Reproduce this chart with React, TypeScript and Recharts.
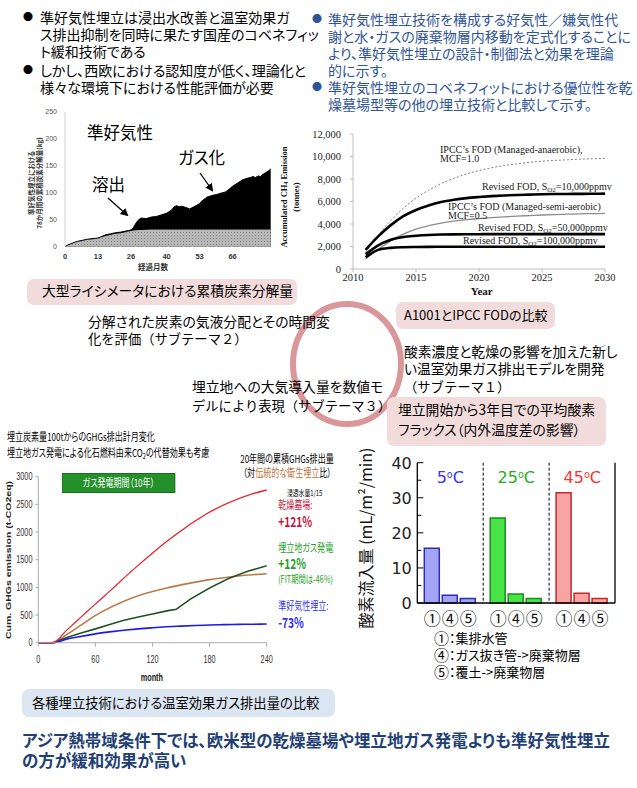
import React from "react";
import {
  AreaChart, Area, LineChart, Line, BarChart, Bar, XAxis, YAxis, Cell, CartesianGrid,
} from "recharts";

// ---------------- Chart 1: lysimeter cumulative carbon decomposition ----------------
const lysMonths = [0,1,2,3,5,7,9,11,13,14,16,18,20,22,24,25,26,27,28,29,30,32,34,36,38,40,42,43,44,45,46,48,49,50,52,53,54,56,58,60,62,63,64,66,68,70,72,73,74,75,76,77,78,79,80,81];
const lysTotal = [0,3,5,7,10,12,14,15,16,18,22,24,26,27,29,30,31,36,44,50,53,52,55,56,59,62,68,74,76,74,75,72,70,72,77,80,85,92,95,97,100,101,104,112,118,124,127,128,130,128,131,130,134,137,140,144];
const lysLeach = [0,2,4,6,9,11,13,14,15,17,20,22,24,25,27,28,29,30,30.5,31,31,31.5,32,32,32,32,32,32,32,32,32,32,32,32,32,32,32,32,32,32,32,32,32,32,32,32,32,32,32,32,32,32,32,32,32,32];
const lysXTicks = [0, 13, 26, 40, 53, 66];
const lysYTicks = [0, 50, 100, 150, 200, 250];

// ---------------- Chart 2: Revised FOD vs IPCC FOD ----------------
const years = [2011,2012,2013,2014,2015,2016,2017,2018,2019,2020,2021,2022,2023,2024,2025,2026,2027,2028,2029,2030];
const ipccAnaerobic = [1500,3000,4300,5400,6300,7000,7600,8050,8450,8750,9000,9200,9350,9480,9580,9650,9710,9760,9800,9830];
const revised10k = [1700,2900,3900,4700,5250,5650,5950,6150,6300,6400,6480,6540,6580,6610,6640,6660,6670,6680,6690,6700];
const ipccSemi = [900,1750,2500,3100,3550,3850,4080,4250,4380,4480,4570,4640,4700,4750,4800,4840,4870,4900,4920,4940];
const revised50k = [1300,2100,2600,2850,2950,3020,3060,3080,3090,3095,3100,3100,3100,3100,3100,3100,3100,3100,3100,3100];
const revised100k = [1050,1700,1880,1940,1960,1970,1975,1980,1980,1980,1980,1980,1980,1980,1980,1980,1980,1980,1980,1980];
const yearTicks = [2010, 2015, 2020, 2025, 2030];
const ch4Ticks = [0, 2000, 4000, 6000, 8000, 10000, 12000];

// ---------------- Chart 3: cumulative GHGs emission ----------------
const redMonths = [0,15,30,45,60,75,90,105,120,135,150,165,180,195,210,225,240];
const redValues = [0,0,230,465,700,930,1170,1400,1620,1830,2020,2200,2360,2490,2600,2690,2760];
const brownMonths = [0,15,30,45,60,75,90,105,120,135,150,165,180,195,210,225,240];
const brownValues = [0,0,150,320,490,630,750,850,925,990,1045,1095,1140,1175,1205,1228,1245];
const greenMonths = [0,15,30,45,60,75,90,105,120,135,145,160,180,200,220,240];
const greenValues = [0,0,95,175,250,330,405,465,520,575,605,790,990,1160,1290,1390];
const blueMonths = [0,15,30,45,60,75,90,105,120,135,150,165,180,195,210,225,240];
const blueValues = [0,0,65,115,160,195,225,250,270,287,300,311,319,326,331,334,337];
const monthTicks = [0, 60, 120, 180, 240];
const ghgTicks = [0, 500, 1000, 1500, 2000, 2500, 3000];

// ---------------- Chart 4: oxygen inflow flux ----------------
const tempLabels = ["5", "25", "45"];
const fluxDrain = [15.6, 24.2, 31.4];   // ① 集排水管
const fluxVent = [2.2, 2.6, 2.8];       // ④ ガス抜き管->廃棄物層
const fluxCover = [1.3, 1.3, 1.3];      // ⑤ 覆土->廃棄物層
const circLabels = ["①", "④", "⑤"];
const fluxTicks = [0, 5, 10, 15, 20, 25, 30, 35, 40];
const groupFill = ["#A4A4F6", "#46E446", "#F7A4A4"];
const groupStroke = ["#2E2EB0", "#1E8C1E", "#C02A2A"];
const tempColor = ["#3333FF", "#22B022", "#FF3030"];

const lysData = lysMonths.map((m, i) => ({ m, total: lysTotal[i], leach: lysLeach[i] }));
const fodData = years.map((y, i) => ({
  year: y, a: ipccAnaerobic[i], r10: revised10k[i], s: ipccSemi[i], r50: revised50k[i], r100: revised100k[i],
}));
const toSeries = (ms: number[], vs: number[]) => ms.map((m, i) => ({ m, v: vs[i] }));
const fluxData = tempLabels.map((t, i) => ({ temp: t, d: fluxDrain[i], v: fluxVent[i], c: fluxCover[i] }));

const JP = '"Noto Sans CJK JP", "Noto Sans", sans-serif';
const SERIF = '"Liberation Serif", "DejaVu Serif", serif';
const SANS = '"Liberation Sans", Arial, sans-serif';
const DJ = '"DejaVu Sans", Verdana, sans-serif';

type TP = {
  x: number; y: number; size: number; color?: string; weight?: number | string; family?: string;
  children: any; anchor?: "start" | "middle" | "end"; off?: number; style?: React.CSSProperties; palt?: boolean;
};
function T({ x, y, size, color = "#000", weight = 400, family = JP, children, anchor = "start", off = 0.56, style, palt = true }: TP) {
  const tx = anchor === "middle" ? "translateX(-50%)" : anchor === "end" ? "translateX(-100%)" : undefined;
  return (
    <div style={{
      position: "absolute", left: x, top: y - size * off, fontSize: size, lineHeight: 1, color,
      fontWeight: weight as any, fontFamily: family, whiteSpace: "nowrap",
      fontFeatureSettings: palt ? '"palt"' : "normal", transform: tx, ...style,
    }}>{children}</div>
  );
}
function Box({ x, y, w, h, bg }: { x: number; y: number; w: number; h: number; bg: string }) {
  return <div style={{ position: "absolute", left: x, top: y, width: w, height: h, background: bg, borderRadius: 7 }} />;
}
function VText({ cx, cy, w, h, size, lh, children, family = JP, weight = 400, color = "#000" }: any) {
  return (
    <div style={{
      position: "absolute", left: cx - w / 2, top: cy - h / 2, width: w, height: h, textAlign: "center",
      transform: "rotate(-90deg)", fontSize: size, lineHeight: `${lh}px`, fontFamily: family, fontWeight: weight,
      color, whiteSpace: "nowrap", fontFeatureSettings: '"palt"',
    }}>{children}</div>
  );
}
const Sub = ({ children }: any) => <sub style={{ fontSize: "0.7em", verticalAlign: "-0.25em", lineHeight: 0 }}>{children}</sub>;
const Circ = ({ children }: any) => (
  <span style={{ fontSize: 15, display: "inline-block", lineHeight: "13px", height: 13, verticalAlign: "top" }}>{children}</span>
);

const FluxTickL = (p: any) => {
  const { x, y, payload } = p;
  const v = payload.value;
  const major = v % 10 === 0;
  return (
    <g>
      {major && <text x={x} y={y} dy={6} textAnchor="end" fontSize={16} fontFamily={DJ} fill="#222">{v}</text>}
      <line x1={x + 5.5} x2={x + 5.5 + (major ? 6 : 4)} y1={y} y2={y} stroke="#000" strokeWidth={1} />
    </g>
  );
};
const FluxTickR = (p: any) => {
  const { x, y, payload } = p;
  const major = payload.value % 10 === 0;
  return <line x1={x} x2={x - (major ? 6 : 4)} y1={y} y2={y} stroke="#000" strokeWidth={1} />;
};
const CircTick = (p: any) => {
  const { x, y } = p;
  return (
    <g>
      {circLabels.map((c, i) => (
        <text key={i} x={x + (i - 1) * 18} y={y + 14} textAnchor="middle" dominantBaseline="central"
          fontSize={17} fontFamily={JP} fill="#111">{c}</text>
      ))}
    </g>
  );
};
const groupDividers = ({ offset }: any) => [offset.left + offset.width / 3, offset.left + (2 * offset.width) / 3];

const K = 0.73; // horizontal compression of the lower-left panel

export default function App() {
  return (
    <div style={{ position: "absolute", left: 0, top: 0, width: 637, height: 788, background: "#fff", overflow: "hidden", fontFamily: JP }}>
      {/* ring */}
      <svg style={{ position: "absolute", left: 0, top: 0 }} width={637} height={788}>
        <ellipse cx={347} cy={364} rx={54} ry={60} fill="none" stroke="#D9979A" strokeWidth={6} />
      </svg>

      {/* top-left bullets */}
      <T x={23} y={18} size={10}>●</T>
      <T x={40} y={18} size={14}>準好気性埋立は浸出水改善と温室効果ガ</T>
      <T x={40} y={35} size={14}>ス排出抑制を同時に果たす国産のコベネフィッ</T>
      <T x={40} y={52} size={14}>ト緩和技術である</T>
      <T x={23} y={71} size={10}>●</T>
      <T x={40} y={71} size={14}>しかし、西欧における認知度が低く、理論化と</T>
      <T x={40} y={88} size={14}>様々な環境下における性能評価が必要</T>

      {/* top-right bullets */}
      <T x={312} y={20} size={10} color="#2F5597">●</T>
      <T x={328} y={20} size={14} color="#2F5597">準好気性埋立技術を構成する好気性／嫌気性代</T>
      <T x={328} y={37} size={14} color="#2F5597">謝と水・ガスの廃棄物層内移動を定式化することに</T>
      <T x={328} y={54} size={14} color="#2F5597">より、準好気性埋立の設計・制御法と効果を理論</T>
      <T x={328} y={71} size={14} color="#2F5597">的に示す。</T>
      <T x={312} y={88} size={10} color="#2F5597">●</T>
      <T x={328} y={88} size={14} color="#2F5597">準好気性埋立のコベネフィットにおける優位性を乾</T>
      <T x={328} y={105} size={14} color="#2F5597">燥墓場型等の他の埋立技術と比較して示す。</T>

      {/* chart 1 */}
      <div style={{ position: "absolute", left: 30, top: 100 }}>
        <AreaChart width={250} height={175} data={lysData} margin={{ top: 11.7, right: 9.3, bottom: 14.3, left: 8 }}>
          <defs>
            <pattern id="dots" width="3" height="3" patternUnits="userSpaceOnUse">
              <rect width="3" height="3" fill="#B8B8B8" />
              <rect width="1" height="1" fill="#808080" />
            </pattern>
          </defs>
          <XAxis type="number" dataKey="m" domain={[0, 81]} ticks={lysXTicks} interval={0} height={14}
            tickSize={0} tickMargin={7} axisLine={false}
            tick={{ fontSize: 7.5, fill: "#333", fontWeight: 700, fontFamily: SANS }} />
          <YAxis domain={[0, 250]} ticks={lysYTicks} interval={0} width={27} tickSize={0} tickMargin={8}
            axisLine={{ stroke: "#D0D0D0" }} tick={{ fontSize: 7, fill: "#555", fontFamily: SANS }} />
          <Area type="linear" dataKey="total" stroke="#000" strokeWidth={1} fill="#000" fillOpacity={1} isAnimationActive={false} />
          <Area type="linear" dataKey="leach" stroke="none" fill="url(#dots)" fillOpacity={1} isAnimationActive={false} />
        </AreaChart>
      </div>
      <VText cx={35.5} cy={183} w={120} h={16} size={6.5} lh={7.5} weight={700} color="#333">
        準好気性埋立における<br />78か月間の累積炭素分解量(kg)
      </VText>
      <T x={153} y={267} size={7.5} anchor="middle" weight={700} color="#333">経過月数</T>
      <T x={87} y={133} size={16.5}>準好気性</T>
      <T x={178} y={158} size={16.5}>ガス化</T>
      <T x={92} y={185} size={16.5}>溶出</T>

      {/* chart 2 */}
      <div style={{ position: "absolute", left: 300, top: 125 }}>
        <LineChart width={330} height={175} data={fodData} margin={{ top: 9, right: 25, bottom: 15, left: 5 }}>
          <XAxis type="number" dataKey="year" domain={[2010, 2030]} ticks={yearTicks} interval={0} height={16}
            tickSize={3} tickMargin={2} axisLine={{ stroke: "#BFBFBF" }} tickLine={{ stroke: "#BFBFBF" }}
            tick={{ fontSize: 10.5, fill: "#222", fontFamily: SERIF }} />
          <YAxis domain={[0, 12000]} ticks={ch4Ticks} interval={0} width={48} tickSize={3} tickMargin={9}
            axisLine={{ stroke: "#BFBFBF" }} tickLine={{ stroke: "#BFBFBF" }}
            tickFormatter={(v: number) => v.toLocaleString("en-US")}
            tick={{ fontSize: 10.5, fill: "#222", fontFamily: SERIF }} />
          <Line type="monotone" dataKey="a" stroke="#7F7F7F" strokeWidth={1} strokeDasharray="2 2" dot={false} isAnimationActive={false} />
          <Line type="monotone" dataKey="s" stroke="#8C8C8C" strokeWidth={1.3} dot={false} isAnimationActive={false} />
          <Line type="monotone" dataKey="r10" stroke="#000" strokeWidth={2.6} dot={false} isAnimationActive={false} />
          <Line type="monotone" dataKey="r50" stroke="#000" strokeWidth={2.6} dot={false} isAnimationActive={false} />
          <Line type="monotone" dataKey="r100" stroke="#000" strokeWidth={2.6} dot={false} isAnimationActive={false} />
        </LineChart>
      </div>
      <VText cx={290} cy={197} w={140} h={24} size={8.5} lh={12} weight={700} family={SERIF} color="#111">
        Accumulated CH<Sub>4</Sub> Emission<br />(tonnes)
      </VText>
      <T x={481.7} y={291} size={11} anchor="middle" weight={700} family={SERIF} off={0.5} color="#111">Year</T>
      <T x={440} y={149.5} size={10} family={SERIF} off={0.5} color="#222">IPCC’s FOD (Managed-anaerobic),</T>
      <T x={440} y={158.5} size={10} family={SERIF} off={0.5} color="#222">MCF=1.0</T>
      <T x={482} y={186.7} size={10} family={SERIF} off={0.5} color="#222">Revised FOD, S<Sub>O2</Sub>=10,000ppmv</T>
      <T x={448} y={207.3} size={10} family={SERIF} off={0.5} color="#222">IPCC’s FOD (Managed-semi-aerobic)</T>
      <T x={448} y={216.3} size={10} family={SERIF} off={0.5} color="#222">MCF=0.5</T>
      <T x={478} y={228.3} size={10} family={SERIF} off={0.5} color="#222">Revised FOD, S<Sub>O2</Sub>=50,000ppmv</T>
      <T x={463} y={240.7} size={10} family={SERIF} off={0.5} color="#222">Revised FOD, S<Sub>O2</Sub>=100,000ppmv</T>

      {/* arrows */}
      <svg style={{ position: "absolute", left: 0, top: 0, pointerEvents: "none" }} width={637} height={788}>
        <defs>
          <marker id="ah" markerWidth="8" markerHeight="8" refX="6" refY="4" orient="auto" markerUnits="userSpaceOnUse">
            <path d="M0,0 L8,4 L0,8 z" fill="#000" />
          </marker>
        </defs>
        <line x1={200} y1={173} x2={212} y2={190} stroke="#000" strokeWidth={1.3} markerEnd="url(#ah)" />
        <line x1={108} y1={198} x2={127} y2={215} stroke="#000" strokeWidth={1.3} markerEnd="url(#ah)" />
      </svg>

      {/* middle captions */}
      <Box x={27} y={279} w={270} h={26} bg="#F2DCDB" />
      <T x={42} y={292} size={13.8}>大型ライシメータにおける累積炭素分解量</T>
      <Box x={396} y={302} w={159} h={27} bg="#F2DCDB" />
      <T x={404} y={315.5} size={13}>A1001とIPCC FODの比較</T>
      <T x={88} y={323} size={13.8}>分解された炭素の気液分配とその時間変</T>
      <T x={88} y={339.5} size={13.3} palt={false}>化を評価（サブテーマ２）</T>
      <T x={404} y={353} size={13.8}>酸素濃度と乾燥の影響を加えた新し</T>
      <T x={404} y={370} size={13.8}>い温室効果ガス排出モデルを開発</T>
      <T x={404} y={387} size={13.3} palt={false}>（サブテーマ１）</T>
      <T x={192} y={388} size={13.8}>埋立地への大気導入量を数値モ</T>
      <T x={192} y={406} size={13.3} palt={false}>デルにより表現（サブテーマ３）</T>
      <Box x={387} y={397} w={219} h={49} bg="#F2DCDB" />
      <T x={398} y={411} size={13.8}>埋立開始から3年目での平均酸素</T>
      <T x={398} y={431} size={13.8}>フラックス（内外温度差の影響）</T>

      {/* lower-left panel (horizontally compressed) */}
      <div style={{ position: "absolute", left: 0, top: 425, width: 470, height: 275, transform: `scaleX(${K})`, transformOrigin: "0 0" }}>
        <T x={9.6} y={12} size={11}>埋立炭素量100tからのGHGs排出計月変化</T>
        <T x={9.6} y={28} size={11}>埋立地ガス発電による化石燃料由来CO<Sub>2</Sub>の代替効果も考慮</T>
        <div style={{ position: "absolute", left: 0, top: 35 }}>
          <LineChart width={400} height={230} margin={{ top: 16.7, right: 34.7, bottom: 27.3, left: 10.5 }}>
            <XAxis type="number" dataKey="m" domain={[0, 240]} ticks={monthTicks} interval={0} height={20}
              tickSize={4} tickMargin={9} axisLine={{ stroke: "#A0A0A0" }} tickLine={{ stroke: "#A0A0A0" }}
              tick={{ fontSize: 10, fill: "#333", fontFamily: SANS }} allowDuplicatedCategory={false} />
            <YAxis type="number" domain={[0, 3000]} ticks={ghgTicks} interval={0} width={42}
              tickSize={4} tickMargin={4} axisLine={{ stroke: "#A0A0A0" }} tickLine={{ stroke: "#A0A0A0" }}
              tick={{ fontSize: 10, fill: "#333", fontFamily: SANS }} />
            <Line data={toSeries(brownMonths, brownValues)} dataKey="v" type="monotone" stroke="#B97A45" strokeWidth={1.6} dot={false} isAnimationActive={false} />
            <Line data={toSeries(greenMonths, greenValues)} dataKey="v" type="linear" stroke="#1C4F1C" strokeWidth={1.6} dot={false} isAnimationActive={false} />
            <Line data={toSeries(blueMonths, blueValues)} dataKey="v" type="monotone" stroke="#1A1AF0" strokeWidth={1.6} dot={false} isAnimationActive={false} />
            <Line data={toSeries(redMonths, redValues)} dataKey="v" type="monotone" stroke="#E8232B" strokeWidth={1.4} dot={false} isAnimationActive={false} />
          </LineChart>
        </div>
        <VText cx={12.3} cy={135} w={190} h={14} size={10.5} lh={12} weight={700} family={SANS} color="#222">
          Cum. GHGs emission (t-CO2eq)
        </VText>
        <T x={208} y={253} size={10} anchor="middle" weight={700} family={SANS} off={0.5} color="#222">month</T>
        <div style={{ position: "absolute", left: 85, top: 48, width: 155, height: 20, background: "#23902A", border: "1px solid #1B6E1F", boxSizing: "border-box" }} />
        <T x={162.5} y={58} size={11} anchor="middle" color="#fff">ガス発電期間（10年）</T>
        <T x={329} y={34} size={11}>20年間の累積GHGs排出量</T>
        <T x={333} y={48} size={11}>（対<span style={{ color: "#B8743A" }}>伝統的な衛生埋立</span>比）</T>
        <T x={393} y={68} size={8}>浸透水量1/15</T>
        <T x={381} y={80} size={11} color="#C0143C">乾燥墓場:</T>
        <T x={381} y={97} size={14} weight={700} color="#C0143C">+121%</T>
        <T x={381} y={123} size={11} color="#22A022">埋立地ガス発電</T>
        <T x={381} y={139} size={14} weight={700} color="#22A022">+12%</T>
        <T x={381} y={154.5} size={10} color="#22A022">(FIT期間は-46%)</T>
        <T x={381} y={181} size={11} color="#2F2FFF">準好気性埋立:</T>
        <T x={381} y={198} size={14} weight={700} color="#2F2FFF">-73%</T>
      </div>

      {/* bar chart */}
      <VText cx={365} cy={538} w={200} h={20} size={16} lh={20} color="#111">酸素流入量 (mL/m²/min)</VText>
      <div style={{ position: "absolute", left: 380, top: 450 }}>
        <BarChart width={250} height={180} data={fluxData} margin={{ top: 12.7, right: 14, bottom: 5, left: 2.3 }} barGap={3}>
          <CartesianGrid xAxisId="c" yAxisId="l" horizontal={false} vertical stroke="#000" strokeDasharray="3 2"
            verticalCoordinatesGenerator={groupDividers} />
          <XAxis xAxisId="c" dataKey="temp" type="category" interval={0} height={22} tickSize={0} tickMargin={0}
            axisLine={{ stroke: "#000", strokeWidth: 1.3 }} tickLine={false} tick={<CircTick />} />
          <XAxis xAxisId="t" dataKey="temp" type="category" orientation="top" height={0} tick={false} tickLine={false}
            axisLine={{ stroke: "#000", strokeWidth: 1.3 }} />
          <YAxis yAxisId="l" domain={[0, 40]} ticks={fluxTicks} interval={0} width={35} tickSize={0} tickMargin={5.5}
            axisLine={{ stroke: "#000", strokeWidth: 1.3 }} tickLine={false} tick={<FluxTickL />} />
          <YAxis yAxisId="r" orientation="right" domain={[0, 40]} ticks={fluxTicks} interval={0} width={1} tickSize={0}
            tickMargin={0} axisLine={{ stroke: "#000", strokeWidth: 1.3 }} tickLine={false} tick={<FluxTickR />} />
          <Bar xAxisId="c" yAxisId="l" dataKey="d" barSize={15} strokeWidth={1.5} isAnimationActive={false}>
            {fluxData.map((_, i) => <Cell key={i} fill={groupFill[i]} stroke={groupStroke[i]} />)}
          </Bar>
          <Bar xAxisId="c" yAxisId="l" dataKey="v" barSize={15} strokeWidth={1.5} isAnimationActive={false}>
            {fluxData.map((_, i) => <Cell key={i} fill={groupFill[i]} stroke={groupStroke[i]} />)}
          </Bar>
          <Bar xAxisId="c" yAxisId="l" dataKey="c" barSize={15} strokeWidth={1.5} isAnimationActive={false}>
            {fluxData.map((_, i) => <Cell key={i} fill={groupFill[i]} stroke={groupStroke[i]} />)}
          </Bar>
        </BarChart>
      </div>
      {tempLabels.map((t, i) => (
        <T key={t} x={417.3 + (i + 0.5) * 66} y={478} size={16} family={DJ} anchor="middle" off={0.5} color={tempColor[i]}>
          {t}<sup style={{ fontSize: "0.6em", verticalAlign: "0.55em", lineHeight: 0 }}>o</sup>C
        </T>
      ))}
      <T x={434} y={638} size={13}><Circ>①</Circ>：集排水管</T>
      <T x={434} y={655} size={13}><Circ>④</Circ>：ガス抜き管-&gt;廃棄物層</T>
      <T x={434} y={672} size={13}><Circ>⑤</Circ>：覆土-&gt;廃棄物層</T>

      {/* bottom */}
      <Box x={22} y={689} w={313} h={28} bg="#DCE6F2" />
      <T x={32} y={703} size={13.3}>各種埋立技術における温室効果ガス排出量の比較</T>
      <T x={22} y={741} size={16.5} weight={700} color="#1F3F75">アジア熱帯域条件下では、欧米型の乾燥墓場や埋立地ガス発電よりも準好気性埋立</T>
      <T x={22} y={761} size={16.5} weight={700} color="#1F3F75">の方が緩和効果が高い</T>
    </div>
  );
}
